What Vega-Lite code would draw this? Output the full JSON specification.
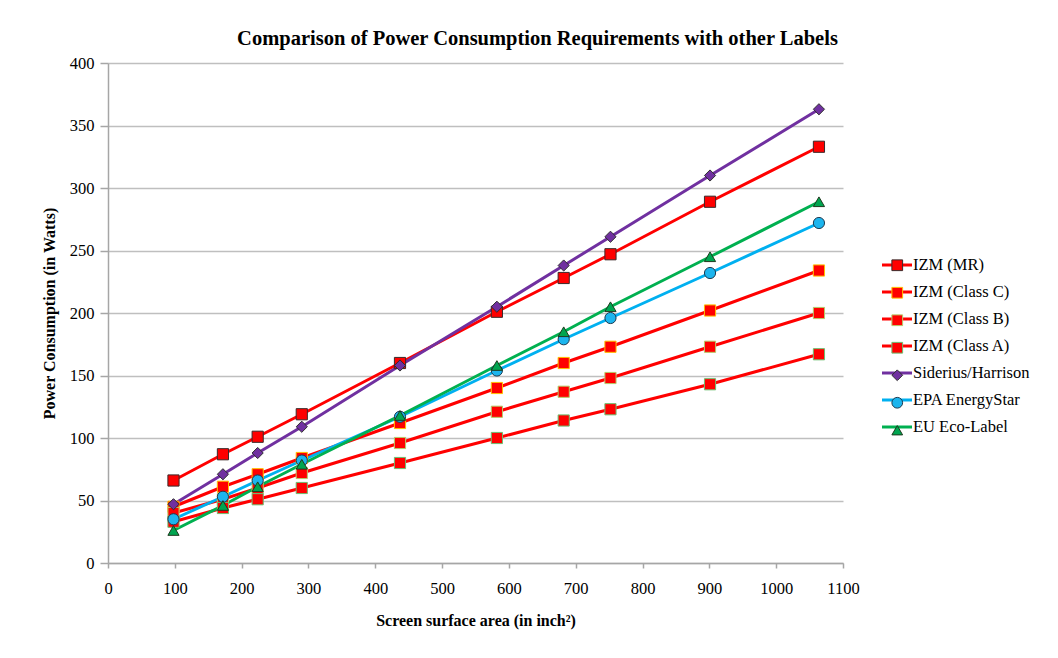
{
  "$schema": "https://vega.github.io/schema/vega-lite/v6.json",
  "autosize": {"type": "none"},
  "padding": {"left": 108, "top": 63, "right": 215, "bottom": 95},
  "width": 735,
  "height": 500,
  "background": "white",
  "config": {
    "font": "Liberation Serif",
    "view": {"stroke": null}
  },
  "title": {"text": "Comparison of Power Consumption Requirements with other Labels", "fontSize": 20.5, "fontWeight": "bold", "font": "Liberation Serif", "color": "#000", "anchor": "middle", "dx": 62, "offset": 6},
  "data": {"values": [
    {"area": 98, "watts": 66, "series": "IZM (MR)"},
    {"area": 172, "watts": 87, "series": "IZM (MR)"},
    {"area": 224, "watts": 101, "series": "IZM (MR)"},
    {"area": 290, "watts": 119, "series": "IZM (MR)"},
    {"area": 437, "watts": 160, "series": "IZM (MR)"},
    {"area": 582, "watts": 201, "series": "IZM (MR)"},
    {"area": 682, "watts": 228, "series": "IZM (MR)"},
    {"area": 752, "watts": 247, "series": "IZM (MR)"},
    {"area": 901, "watts": 289, "series": "IZM (MR)"},
    {"area": 1064, "watts": 333, "series": "IZM (MR)"},
    {"area": 98, "watts": 45, "series": "IZM (Class C)"},
    {"area": 172, "watts": 61, "series": "IZM (Class C)"},
    {"area": 224, "watts": 71, "series": "IZM (Class C)"},
    {"area": 290, "watts": 84, "series": "IZM (Class C)"},
    {"area": 437, "watts": 112, "series": "IZM (Class C)"},
    {"area": 582, "watts": 140, "series": "IZM (Class C)"},
    {"area": 682, "watts": 160, "series": "IZM (Class C)"},
    {"area": 752, "watts": 173, "series": "IZM (Class C)"},
    {"area": 901, "watts": 202, "series": "IZM (Class C)"},
    {"area": 1064, "watts": 234, "series": "IZM (Class C)"},
    {"area": 98, "watts": 40, "series": "IZM (Class B)"},
    {"area": 172, "watts": 51, "series": "IZM (Class B)"},
    {"area": 224, "watts": 60, "series": "IZM (Class B)"},
    {"area": 290, "watts": 72, "series": "IZM (Class B)"},
    {"area": 437, "watts": 96, "series": "IZM (Class B)"},
    {"area": 582, "watts": 121, "series": "IZM (Class B)"},
    {"area": 682, "watts": 137, "series": "IZM (Class B)"},
    {"area": 752, "watts": 148, "series": "IZM (Class B)"},
    {"area": 901, "watts": 173, "series": "IZM (Class B)"},
    {"area": 1064, "watts": 200, "series": "IZM (Class B)"},
    {"area": 98, "watts": 33, "series": "IZM (Class A)"},
    {"area": 172, "watts": 44, "series": "IZM (Class A)"},
    {"area": 224, "watts": 51, "series": "IZM (Class A)"},
    {"area": 290, "watts": 60, "series": "IZM (Class A)"},
    {"area": 437, "watts": 80, "series": "IZM (Class A)"},
    {"area": 582, "watts": 100, "series": "IZM (Class A)"},
    {"area": 682, "watts": 114, "series": "IZM (Class A)"},
    {"area": 752, "watts": 123, "series": "IZM (Class A)"},
    {"area": 901, "watts": 143, "series": "IZM (Class A)"},
    {"area": 1064, "watts": 167, "series": "IZM (Class A)"},
    {"area": 98, "watts": 47, "series": "Siderius/Harrison"},
    {"area": 172, "watts": 71, "series": "Siderius/Harrison"},
    {"area": 224, "watts": 88, "series": "Siderius/Harrison"},
    {"area": 290, "watts": 109, "series": "Siderius/Harrison"},
    {"area": 437, "watts": 158, "series": "Siderius/Harrison"},
    {"area": 582, "watts": 205, "series": "Siderius/Harrison"},
    {"area": 682, "watts": 238, "series": "Siderius/Harrison"},
    {"area": 752, "watts": 261, "series": "Siderius/Harrison"},
    {"area": 901, "watts": 310, "series": "Siderius/Harrison"},
    {"area": 1064, "watts": 363, "series": "Siderius/Harrison"},
    {"area": 98, "watts": 35, "series": "EPA EnergyStar"},
    {"area": 172, "watts": 53, "series": "EPA EnergyStar"},
    {"area": 224, "watts": 66, "series": "EPA EnergyStar"},
    {"area": 290, "watts": 82, "series": "EPA EnergyStar"},
    {"area": 437, "watts": 117, "series": "EPA EnergyStar"},
    {"area": 582, "watts": 154, "series": "EPA EnergyStar"},
    {"area": 682, "watts": 179, "series": "EPA EnergyStar"},
    {"area": 752, "watts": 196, "series": "EPA EnergyStar"},
    {"area": 901, "watts": 232, "series": "EPA EnergyStar"},
    {"area": 1064, "watts": 272, "series": "EPA EnergyStar"},
    {"area": 98, "watts": 26, "series": "EU Eco-Label"},
    {"area": 172, "watts": 46, "series": "EU Eco-Label"},
    {"area": 224, "watts": 61, "series": "EU Eco-Label"},
    {"area": 290, "watts": 79, "series": "EU Eco-Label"},
    {"area": 437, "watts": 118, "series": "EU Eco-Label"},
    {"area": 582, "watts": 158, "series": "EU Eco-Label"},
    {"area": 682, "watts": 185, "series": "EU Eco-Label"},
    {"area": 752, "watts": 205, "series": "EU Eco-Label"},
    {"area": 901, "watts": 245, "series": "EU Eco-Label"},
    {"area": 1064, "watts": 289, "series": "EU Eco-Label"}
  ]},
  "encoding": {
    "x": {"field": "area", "type": "quantitative", "title": "Screen surface area (in inch²)",
      "scale": {"domain": [0, 1100], "nice": false, "zero": true},
      "axis": {"values": [0, 100, 200, 300, 400, 500, 600, 700, 800, 900, 1000, 1100], "format": "d", "grid": false,
        "labelFont": "Liberation Serif", "labelFontSize": 16.5, "labelColor": "#000",
        "titleFont": "Liberation Serif", "titleFontSize": 16, "titleFontWeight": "bold", "titleColor": "#000",
        "domainColor": "#a6a6a6", "domainWidth": 1.5, "tickColor": "#a6a6a6", "tickWidth": 1.5, "tickSize": 5,
        "labelPadding": 12, "titlePadding": 16, "labelFlush": false}},
    "y": {"field": "watts", "type": "quantitative", "title": "Power Consumption (in Watts)",
      "scale": {"domain": [0, 400], "nice": false},
      "axis": {"values": [0, 50, 100, 150, 200, 250, 300, 350, 400], "grid": true, "gridColor": "#bfbfbf", "gridWidth": 1.5,
        "labelFont": "Liberation Serif", "labelFontSize": 16.5, "labelColor": "#000",
        "titleFont": "Liberation Serif", "titleFontSize": 16, "titleFontWeight": "bold", "titleColor": "#000",
        "domainColor": "#a6a6a6", "domainWidth": 1.5, "tickColor": "#a6a6a6", "tickWidth": 1.5, "tickSize": 8,
        "labelPadding": 6, "titlePadding": 12, "labelFlush": false}}
  },
  "layer": [
    {
      "mark": {"type": "line", "strokeWidth": 3},
      "encoding": {
        "color": {"field": "series", "type": "nominal",
          "sort": ["IZM (MR)", "IZM (Class C)", "IZM (Class B)", "IZM (Class A)", "Siderius/Harrison", "EPA EnergyStar", "EU Eco-Label"],
          "scale": {"range": ["#ff0000", "#ff0000", "#ff0000", "#ff0000", "#7030a0", "#00b0f0", "#00b050"]},
          "legend": {"orient": "none", "legendX": 780, "legendY": 193, "title": null, "padding": 0, "symbolType": "M-2,0H2", "symbolSize": 225, "symbolStrokeWidth": 3, "labelFont": "Liberation Serif", "labelFontSize": 16.5, "labelColor": "#000", "labelOffset": 7, "rowPadding": 9}}
      }
    },
    {
      "mark": {"type": "point", "filled": true, "size": 125, "strokeWidth": 1, "opacity": 1},
      "encoding": {
        "shape": {"field": "series", "type": "nominal",
          "scale": {"domain": ["IZM (MR)", "IZM (Class C)", "IZM (Class B)", "IZM (Class A)", "Siderius/Harrison", "EPA EnergyStar", "EU Eco-Label"], "range": ["square", "square", "square", "square", "diamond", "circle", "triangle-up"]},
          "legend": {"orient": "none", "legendX": 781, "legendY": 194, "title": null, "padding": 0, "symbolSize": 115, "symbolStrokeWidth": 1, "labelFont": "Liberation Serif", "labelFontSize": 16.5, "labelOpacity": 0, "rowPadding": 10.5}},
        "fill": {"field": "series", "type": "nominal",
          "scale": {"domain": ["IZM (MR)", "IZM (Class C)", "IZM (Class B)", "IZM (Class A)", "Siderius/Harrison", "EPA EnergyStar", "EU Eco-Label"], "range": ["#ff0000", "#ff0000", "#ff0000", "#ff0000", "#7030a0", "#1cb5ee", "#00a550"]},
          "legend": {"orient": "none", "legendX": 781, "legendY": 194, "title": null, "padding": 0, "symbolSize": 115, "symbolStrokeWidth": 1, "labelFont": "Liberation Serif", "labelFontSize": 16.5, "labelOpacity": 0, "rowPadding": 10.5}},
        "stroke": {"field": "series", "type": "nominal",
          "scale": {"domain": ["IZM (MR)", "IZM (Class C)", "IZM (Class B)", "IZM (Class A)", "Siderius/Harrison", "EPA EnergyStar", "EU Eco-Label"], "range": ["#3a2a2a", "#ffc000", "#b5cc6a", "#6cc070", "#2e2e2e", "#1d3a50", "#1e3a1e"]},
          "legend": {"orient": "none", "legendX": 781, "legendY": 194, "title": null, "padding": 0, "symbolSize": 115, "symbolStrokeWidth": 1, "labelFont": "Liberation Serif", "labelFontSize": 16.5, "labelOpacity": 0, "rowPadding": 10.5}}
      }
    }
  ]
}
